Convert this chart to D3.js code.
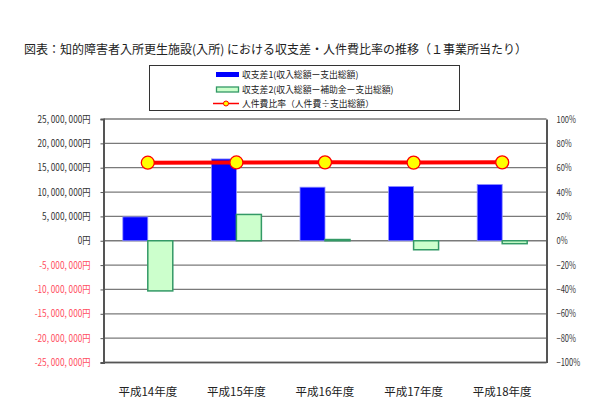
<!DOCTYPE html>
<html><head><meta charset="utf-8">
<script src="https://cdn.jsdelivr.net/npm/d3@7"></script>
<style>
body{margin:0;background:#fff;}
text{font-family:"Noto Sans CJK JP","Noto Sans",sans-serif;}
</style></head>
<body>
<svg id="c" width="603" height="418"></svg>
<script>
const categories = ["平成14年度","平成15年度","平成16年度","平成17年度","平成18年度"];
const balance1 = [4900000, 16800000, 11000000, 11150000, 11550000];
const balance2 = [-10300000, 5400000, 250000, -1850000, -600000];
const laborRatio = [0.641, 0.643, 0.644, 0.642, 0.644];
const leftTicks = [25000000,20000000,15000000,10000000,5000000,0,-5000000,-10000000,-15000000,-20000000,-25000000];
const rightTicks = [1,0.8,0.6,0.4,0.2,0,-0.2,-0.4,-0.6,-0.8,-1];
const legendLabels = ["収支差1(収入総額ー支出総額)","収支差2(収入総額ー補助金ー支出総額)","人件費比率（人件費÷支出総額）"];
const titleText = "図表：知的障害者入所更生施設(入所) における収支差・人件費比率の推移（１事業所当たり）";

const svg = d3.select("#c");
const L = 103.5, R = 546.5, T = 119, B = 362.5;

const y = d3.scaleLinear().domain([-25000000, 25000000]).range([B, T]);
const y2 = d3.scaleLinear().domain([-1, 1]).range([B, T]);
const x0 = d3.scaleBand().domain(categories).range([L, R]).padding(0);
const bw = x0.bandwidth();
const x1 = d3.scaleBand().domain(["s1","s2"]).range([bw*0.218, bw*0.782]).padding(0);

// title
const title = svg.append("text").attr("x", 24).attr("y", 53.5).attr("font-size", 12.2).attr("fill", "#222").text(titleText);
const tw = title.node().getComputedTextLength();
if (tw > 0) title.attr("textLength", 503).attr("lengthAdjust", "spacingAndGlyphs");

// gridlines
svg.append("g").selectAll("line").data(leftTicks).join("line")
  .attr("x1", L).attr("x2", R).attr("y1", d => y(d)).attr("y2", d => y(d))
  .attr("stroke", "#7a7a7a").attr("stroke-width", 1.3);

// left axis
const fmt = v => (v < 0 ? "-" : "") + d3.format(",")(Math.abs(v)).replace(/,/g, ", ") + "円";
const gl = svg.append("g").attr("transform", `translate(${L},0)`)
  .call(d3.axisLeft(y).tickValues(leftTicks).tickSize(3).tickFormat(fmt));
gl.select(".domain").attr("stroke", "#555").attr("stroke-width", 2);
gl.selectAll(".tick line").attr("stroke", "#555");
gl.selectAll(".tick text").attr("font-size", 9.8).attr("x", -13)
  .attr("fill", d => d < 0 ? "#ff4d5e" : "#333");
// narrow the numerals to match the condensed font of the original
const refW = gl.selectAll(".tick text").nodes()[0].getComputedTextLength();
const kL = refW > 0 ? 53 / refW : 1;
gl.selectAll(".tick text").each(function() {
  const w = this.getComputedTextLength();
  if (w > 0) d3.select(this).attr("textLength", w * kL).attr("lengthAdjust", "spacingAndGlyphs");
});

// right axis
const gr = svg.append("g").attr("transform", `translate(${R},0)`)
  .call(d3.axisRight(y2).tickValues(rightTicks).tickSize(0).tickFormat(d3.format(".0%")));
gr.select(".domain").attr("stroke", "#555").attr("stroke-width", 2);
gr.selectAll(".tick text").attr("font-size", 9.8).attr("x", 10).attr("fill", "#333");
const refR = gr.selectAll(".tick text").nodes()[0].getComputedTextLength();
const kR = refR > 0 ? 19.5 / refR : 1;
gr.selectAll(".tick text").each(function() {
  const w = this.getComputedTextLength();
  if (w > 0) d3.select(this).attr("textLength", w * kR).attr("lengthAdjust", "spacingAndGlyphs");
});

// bottom axis line
svg.append("line").attr("x1", L).attr("x2", R).attr("y1", B).attr("y2", B).attr("stroke", "#555").attr("stroke-width", 1.5);

// x labels
svg.append("g").selectAll("text").data(categories).join("text")
  .attr("x", d => x0(d) + bw/2).attr("y", 396).attr("text-anchor", "middle")
  .attr("font-size", 11.5).attr("fill", "#222").text(d => d);

// bars
const g = svg.append("g");
g.selectAll(".b1").data(categories).join("rect")
  .attr("x", (d,i) => x0(d) + x1("s1")).attr("width", x1.bandwidth())
  .attr("y", (d,i) => y(Math.max(0, balance1[i]))).attr("height", (d,i) => Math.abs(y(balance1[i]) - y(0)))
  .attr("fill", "#0000ff").attr("stroke", "#8f8fff").attr("stroke-width", 0.8);
g.selectAll(".b2").data(categories).join("rect")
  .attr("x", (d,i) => x0(d) + x1("s2")).attr("width", x1.bandwidth())
  .attr("y", (d,i) => y(Math.max(0, balance2[i]))).attr("height", (d,i) => Math.abs(y(balance2[i]) - y(0)))
  .attr("fill", "#ccffcc").attr("stroke", "#339966").attr("stroke-width", 1.5);

// line
const line = d3.line().x((d,i) => x0(categories[i]) + bw/2).y(d => y2(d));
svg.append("path").datum(laborRatio).attr("d", line).attr("fill", "none")
  .attr("stroke", "#ff0000").attr("stroke-width", 4);
svg.append("g").selectAll("circle").data(laborRatio).join("circle")
  .attr("cx", (d,i) => x0(categories[i]) + bw/2).attr("cy", d => y2(d)).attr("r", 6.5)
  .attr("fill", "#ffff00").attr("stroke", "#ff0000").attr("stroke-width", 1.3);

// legend
const lg = svg.append("g");
lg.append("rect").attr("x", 149.5).attr("y", 65.5).attr("width", 310).attr("height", 45)
  .attr("fill", "#fff").attr("stroke", "#333").attr("stroke-width", 1);
const ly = [74.5, 89.5, 103.5];
lg.append("rect").attr("x", 216).attr("y", ly[0]-2.5).attr("width", 23).attr("height", 5).attr("fill", "#0000ff");
lg.append("rect").attr("x", 216.5).attr("y", ly[1]-2.5).attr("width", 22).attr("height", 5).attr("fill", "#ccffcc").attr("stroke", "#339966").attr("stroke-width", 1.3);
lg.append("line").attr("x1", 213).attr("x2", 239).attr("y1", ly[2]).attr("y2", ly[2]).attr("stroke", "#ff0000").attr("stroke-width", 1.5);
lg.append("circle").attr("cx", 226).attr("cy", ly[2]).attr("r", 2.5).attr("fill", "#ffff00").attr("stroke", "#ff0000").attr("stroke-width", 1);
lg.selectAll(".lt").data(legendLabels).join("text")
  .attr("x", 242).attr("y", (d,i) => ly[i] + 3.2).attr("font-size", 8.8).attr("fill", "#222").text(d => d);
</script>
</body></html>
